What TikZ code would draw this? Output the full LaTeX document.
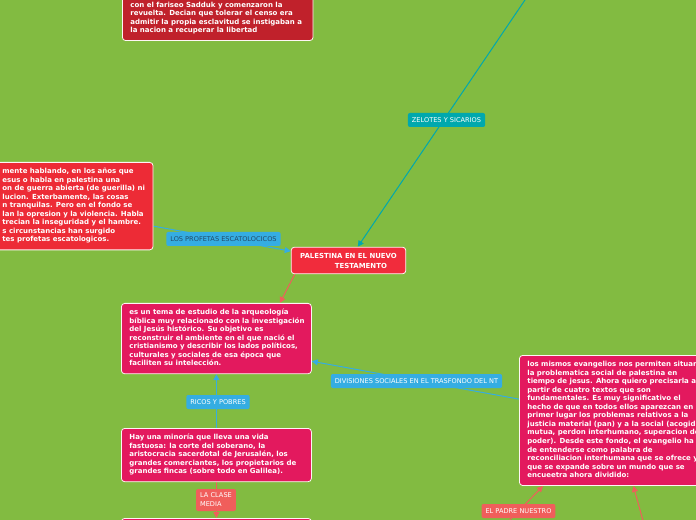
\documentclass[tikz,border=0pt]{standalone}
\usepackage{fontspec}
\setmainfont{DejaVu Sans}
\usetikzlibrary{arrows.meta}

\definecolor{mapgreen}{RGB}{130,187,65}
\definecolor{topred}{RGB}{192,33,43}
\definecolor{escred}{RGB}{237,43,54}
\definecolor{palred}{RGB}{241,44,60}
\definecolor{crim}{RGB}{227,25,94}
\definecolor{tealc}{RGB}{0,168,173}
\definecolor{bluec}{RGB}{53,173,226}
\definecolor{salm}{RGB}{240,94,91}
\definecolor{darkink}{RGB}{35,75,105}

\pgfdeclarelayer{back}
\pgfdeclarelayer{links}
\pgfsetlayers{back,links,main}

\newcommand\boxfont{\fontsize{5.25}{6.4}\selectfont\bfseries}
\newcommand\lblfont{\fontsize{4.95}{5.5}\selectfont}
\newcommand\boxlines[2]{\makebox[#1][l]{\begin{tabular}{@{}l@{}}#2\end{tabular}}}

\tikzset{
  bigbox/.style={draw=white!85!pink, line width=0.6pt, rounded corners=2.5pt,
    text=white, inner xsep=6pt, inner ysep=4pt, font=\boxfont},
  tag/.style={rounded corners=1.5pt, inner xsep=3pt, inner ysep=0pt,
    minimum height=10.5pt, font=\lblfont, text=white},
  link/.style={line width=0.75pt, -{Triangle[length=4.5pt,width=4.5pt]}},
}

\begin{document}
\begin{tikzpicture}[x=0.75pt, y=-0.75pt]
  \useasboundingbox (0,0) rectangle (696,520);
  \clip (0,0) rectangle (696,520);
  \begin{pgfonlayer}{back}
    \fill[mapgreen] (0,0) rectangle (696,520);
  \end{pgfonlayer}

  % central topic
  \node[bigbox, fill=palred, minimum width=86pt, minimum height=20pt, align=left,
    inner xsep=0pt, font=\fontsize{5.2}{7.5}\selectfont\bfseries] (pal) at (348.5,260.5)
    {PALESTINA EN EL NUEVO\\\hspace*{26pt}TESTAMENTO};

  % text boxes
  \node[bigbox, fill=topred, anchor=south west] (zelbox) at (122,41) {\boxlines{131pt}{%
    con el fariseo Sadduk y comenzaron la\\
    revuelta. Decian que tolerar el censo era\\
    admitir la propia esclavitud se instigaban a\\
    la nacion a recuperar la libertad}};

  \node[bigbox, fill=escred, anchor=north west] (escat) at (-6,162) {\boxlines{107pt}{%
    mente hablando, en los años que\\
    esus o habla en palestina una\\
    on de guerra abierta (de guerilla) ni\\
    lucion. Exterbamente, las cosas\\
    n tranquilas. Pero en el fondo se\\
    lan la opresion y la violencia. Habla\\
    trecian la inseguridad y el hambre.\\
    s circunstancias han surgido\\
    tes profetas escatologicos.}};

  \node[bigbox, fill=crim, anchor=north west] (arch) at (121,303) {\boxlines{130.5pt}{%
    es un tema de estudio de la arqueología\\
    bíblica muy relacionado con la investigación\\
    del Jesús histórico. Su objetivo es\\
    reconstruir el ambiente en el que nació el\\
    cristianismo y describir los lados políticos,\\
    culturales y sociales de esa época que\\
    faciliten su intelección.}};

  \node[bigbox, fill=crim, anchor=north west] (hay) at (121,428) {\boxlines{130.5pt}{%
    Hay una minoría que lleva una vida\\
    fastuosa: la corte del soberano, la\\
    aristocracia sacerdotal de Jerusalén, los\\
    grandes comerciantes, los propietarios de\\
    grandes fincas (sobre todo en Galilea).}};

  \node[bigbox, fill=crim, anchor=north west, minimum width=142.5pt,
    minimum height=30pt] (lower) at (121,518) {};

  \node[bigbox, fill=crim, anchor=north west] (evang) at (519,355) {\boxlines{175pt}{%
    los mismos evangelios nos permiten situar\\
    la problematica social de palestina en\\
    tiempo de jesus. Ahora quiero precisarla a\\
    partir de cuatro textos que son\\
    fundamentales. Es muy significativo el\\
    hecho de que en todos ellos aparezcan en\\
    primer lugar los problemas relativos a la\\
    justicia material (pan) y a la social (acogid\\
    mutua, perdon interhumano, superacion de\\
    poder). Desde este fondo, el evangelio ha\\
    de entenderse como palabra de\\
    reconciliacion interhumana que se ofrece y\\
    que se expande sobre un mundo que se\\
    encueetra ahora dividido:}};

  % labels
  \node[tag, fill=tealc] (zel) at (446.5,120) {ZELOTES Y SICARIOS};
  \node[tag, fill=bluec, text=darkink] (prof) at (223.5,239) {LOS PROFETAS ESCATOLOCICOS};
  \node[tag, fill=bluec] (div) at (416.5,381) {DIVISIONES SOCIALES EN EL TRASFONDO DEL NT};
  \node[tag, fill=bluec] (ricos) at (218,402) {RICOS Y POBRES};
  \node[tag, fill=salm, align=left, minimum width=29pt, minimum height=16.5pt,
    font=\fontsize{4.95}{6.8}\selectfont] (clase) at (216,500) {LA CLASE\\MEDIA};
  \node[tag, fill=salm] (padre) at (518.5,511) {EL PADRE NUESTRO};

  % connectors
  \coordinate (ztop) at (527,-3);
  \coordinate (padrefoot) at (502,528);
  \coordinate (rightfoot) at (645,528);
  \begin{pgfonlayer}{links}
    \draw[link, tealc] (ztop) -- (pal);
    \draw[link, bluec] ([yshift=-15pt]escat.east) -- ([yshift=7pt]pal.west);
    \draw[link, salm] ([xshift=3pt]pal.south west) -- ([xshift=-24pt]arch.north east);
    \draw[link, bluec] ([yshift=16pt]evang.west) -- ([yshift=-17pt]arch.east);
    \draw[link, bluec] (hay) -- (arch);
    \draw[link, salm] (hay) -- (lower);
    \draw[link, salm] (padrefoot) -- ([xshift=18pt]evang.south west);
    \draw[link, salm] (rightfoot) -- ([xshift=-8pt]evang.south);
  \end{pgfonlayer}
\end{tikzpicture}
\end{document}
